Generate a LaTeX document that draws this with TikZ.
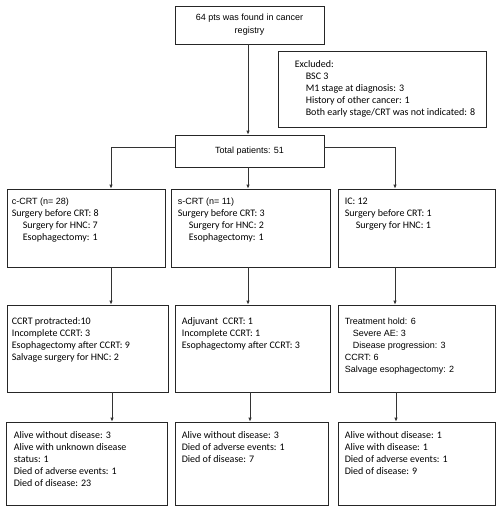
\documentclass[tikz,border=0pt]{standalone}
\usepackage{fontspec}
\setmainfont{Carlito}
\newfontfamily\arialf{Liberation Sans}
\newfontfamily\calf{Carlito}
\usetikzlibrary{arrows.meta}
\begin{document}
\begin{tikzpicture}[x=1pt,y=-1pt,
  box/.style={draw=black!85,line width=0.8pt,inner sep=0pt,rectangle},
  txt/.style={inner sep=0pt,anchor=north west,align=left,font=\calf\fontsize{10}{12}\selectfont},
  atxt/.style={inner sep=0pt,align=center,font=\arialf\fontsize{9}{13}\selectfont},
  arr/.style={draw=black!80,line width=0.8pt,-{Latex[length=4pt,width=3.5pt]}},
  ln/.style={draw=black!80,line width=0.8pt}]
\useasboundingbox (0,0) rectangle (503,509);
\fill[white] (0,0) rectangle (503,509);
\coordinate (col1) at (111,0);
\coordinate (col2) at (248,0);
\coordinate (col3) at (395,0);
% boxes
\node[box,minimum width=149pt,minimum height=38pt] (top) at (249.5,25) {};
\node[box,minimum width=208pt,minimum height=76pt] (excl) at (382,89) {};
\node[box,minimum width=149pt,minimum height=32pt] (total) at (249.5,151) {};
\node[box,minimum width=158pt,minimum height=78pt] (b21) at (86,228) {};
\node[box,minimum width=159pt,minimum height=78pt] (b22) at (250.5,228) {};
\node[box,minimum width=157pt,minimum height=78pt] (b23) at (416.5,228) {};
\node[box,minimum width=161pt,minimum height=87pt] (b31) at (87.5,348.5) {};
\node[box,minimum width=155pt,minimum height=87pt] (b32) at (252.5,348.5) {};
\node[box,minimum width=157pt,minimum height=87pt] (b33) at (416.5,348.5) {};
\node[box,minimum width=161pt,minimum height=83pt] (b41) at (86.5,463.5) {};
\node[box,minimum width=153pt,minimum height=83pt] (b42) at (251.5,463.5) {};
\node[box,minimum width=157pt,minimum height=83pt] (b43) at (416.5,463.5) {};
% texts
\node[atxt] (ttop) at (top.center) {64 pts was found in cancer\\registry};
\node[atxt] (ttotal) at (total.center) {Total patients: 51};
\node[txt] (texcl) at ([xshift=17pt,yshift=-10pt]excl.north west) {Excluded:\\
\hspace*{11pt}BSC 3\\
\hspace*{11pt}M1 stage at diagnosis: 3\\
\hspace*{11pt}History of other cancer: 1\\
\hspace*{11pt}Both early stage/CRT was not indicated: 8};
\node[txt] (t21) at ([xshift=5pt,yshift=-9pt]b21.north west) {{\arialf\fontsize{9}{12}\selectfont c-CRT (n= 28)}\\
Surgery before CRT: 8\\
\hspace*{11pt}Surgery for HNC: 7\\
\hspace*{11pt}Esophagectomy: 1};
\node[txt] (t22) at ([xshift=7pt,yshift=-9pt]b22.north west) {{\arialf\fontsize{9}{12}\selectfont s-CRT (n= 11)}\\
Surgery before CRT: 3\\
\hspace*{11pt}Surgery for HNC: 2\\
\hspace*{11pt}Esophagectomy: 1};
\node[txt] (t23) at ([xshift=7pt,yshift=-9pt]b23.north west) {IC: 12\\
Surgery before CRT: 1\\
\hspace*{11pt}Surgery for HNC: 1};
\node[txt] (t31) at ([xshift=5pt,yshift=-13pt]b31.north west) {CCRT protracted:10\\
Incomplete CCRT: 3\\
Esophagectomy after CCRT: 9\\
Salvage surgery for HNC: 2};
\node[txt] (t32) at ([xshift=7pt,yshift=-13pt]b32.north west) {Adjuvant\ \ CCRT: 1\\
Incomplete CCRT: 1\\
Esophagectomy after CCRT: 3};
\node[txt,font=\arialf\fontsize{9}{12}\selectfont] (t33) at ([xshift=7pt,yshift=-13pt]b33.north west) {Treatment hold: 6\\
\hspace*{8pt}Severe AE: 3\\
\hspace*{8pt}Disease progression: 3\\
CCRT: 6\\
Salvage esophagectomy: 2};
\node[txt] (t41) at ([xshift=8pt,yshift=-10pt]b41.north west) {Alive without disease: 3\\
Alive with unknown disease\\
status: 1\\
Died of adverse events: 1\\
Died of disease: 23};
\node[txt] (t42) at ([xshift=7pt,yshift=-10pt]b42.north west) {Alive without disease: 3\\
Died of adverse events: 1\\
Died of disease: 7};
\node[txt] (t43) at ([xshift=7pt,yshift=-10pt]b43.north west) {Alive without disease: 1\\
Alive with disease: 1\\
Died of adverse events: 1\\
Died of disease: 9};
% connectors
\draw[arr] (top.south -| col2) -- (total.north -| col2);
\draw[arr] (total.south -| col2) -- (b22.north -| col2);
\draw[arr] ([yshift=4pt]total.west) -| (b21.north -| col1);
\draw[arr] ([yshift=4pt]total.east) -| (b23.north -| col3);
\draw[arr] (b21.south -| col1) -- (b31.north -| col1);
\draw[arr] (b22.south -| col2) -- (b32.north -| col2);
\draw[arr] (b23.south -| col3) -- (b33.north -| col3);
\draw[arr] ([xshift=1pt]b31.south -| col1) -- ([xshift=1pt]b41.north -| col1);
\draw[arr] ([xshift=2pt]b32.south -| col2) -- ([xshift=2pt]b42.north -| col2);
\draw[arr] ([xshift=1pt]b33.south -| col3) -- ([xshift=1pt]b43.north -| col3);
\end{tikzpicture}
\end{document}
